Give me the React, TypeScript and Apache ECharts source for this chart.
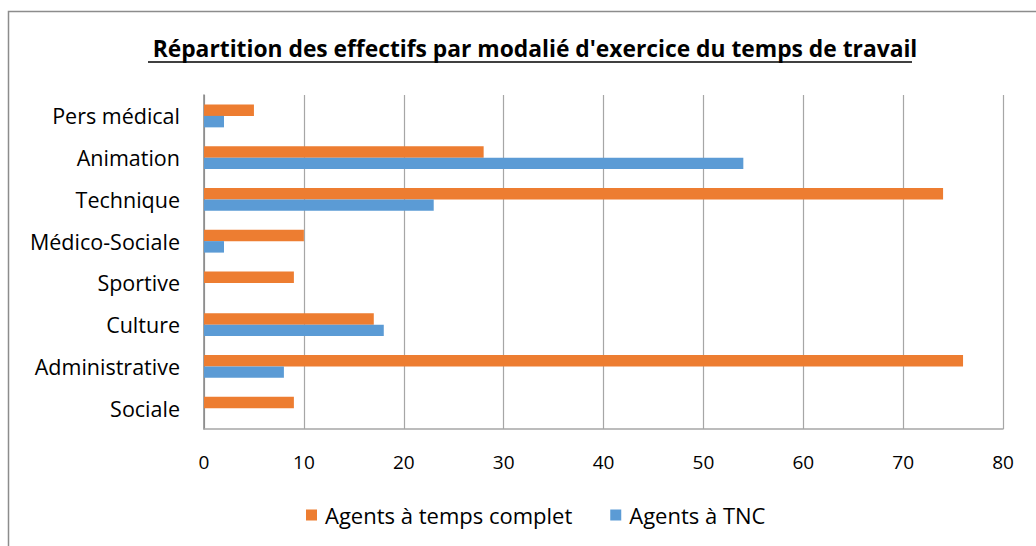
import React, { useEffect, useRef } from "react";
import * as echarts from "echarts";

const categories = ["Sociale", "Administrative", "Culture", "Sportive", "Médico-Sociale", "Technique", "Animation", "Pers médical"];
const tempsComplet = [9, 76, 17, 9, 10, 74, 28, 5];
const tnc = [0, 8, 18, 0, 2, 23, 54, 2];
const seriesNames = ["Agents à temps complet", "Agents à TNC"];
const titleText = "Répartition des effectifs par modalié d'exercice du temps de travail";

const FONT = "Open Sans";

export default function App() {
  const ref = useRef<HTMLDivElement>(null);
  useEffect(() => {
    document.body.style.margin = "0";
    const chart = echarts.init(ref.current!, null, { renderer: "svg" });
    chart.setOption({
      animation: false,
      backgroundColor: "#ffffff",
      title: {
        text: titleText,
        left: 530,
        textAlign: "center",
        top: 32,
        textStyle: { fontFamily: FONT, fontSize: 22.8, fontWeight: "bold", color: "#000" },
      },
      graphic: [
        {
          type: "rect",
          shape: { x: 8.5, y: 11.5, width: 1100, height: 600 },
          style: { fill: "none", stroke: "#8c8c8c", lineWidth: 1.5 },
          silent: true,
          z: -1,
        },
        {
          type: "line",
          shape: { x1: 148, y1: 62, x2: 912, y2: 62 },
          style: { stroke: "#000", lineWidth: 1.5 },
          silent: true,
        },
      ],
      legend: {
        data: seriesNames,
        top: 499,
        left: 301,
        itemWidth: 11,
        itemHeight: 11,
        itemGap: 38,
        icon: "rect",
        textStyle: { fontFamily: FONT, fontSize: 22, color: "#000", padding: [0, 0, 0, 3] },
      },
      grid: { left: 204, top: 95, width: 799, height: 334, containLabel: false },
      xAxis: {
        type: "value",
        min: 0,
        max: 80,
        interval: 10,
        axisLine: { show: true, lineStyle: { color: "#a6a6a6", width: 1.5 } },
        axisTick: { show: false },
        splitLine: { show: true, lineStyle: { color: "#a6a6a6", width: 1.2 } },
        axisLabel: { fontFamily: FONT, fontSize: 19, color: "#000", margin: 23 },
      },
      yAxis: {
        type: "category",
        data: categories,
        axisLine: { show: true, lineStyle: { color: "#868686", width: 1.5 } },
        axisTick: { show: false },
        axisLabel: { fontFamily: FONT, fontSize: 21.5, color: "#000", margin: 24 },
      },
      series: [
        {
          name: seriesNames[0],
          type: "bar",
          data: tempsComplet,
          barGap: "0%",
          barCategoryGap: "45%",
          itemStyle: { color: "#ed7d31" },
        },
        {
          name: seriesNames[1],
          type: "bar",
          data: tnc,
          barGap: "0%",
          barCategoryGap: "45%",
          itemStyle: { color: "#5b9bd5" },
        },
      ],
    });
    return () => chart.dispose();
  }, []);
  return <div ref={ref} style={{ width: 1036, height: 546 }} />;
}
